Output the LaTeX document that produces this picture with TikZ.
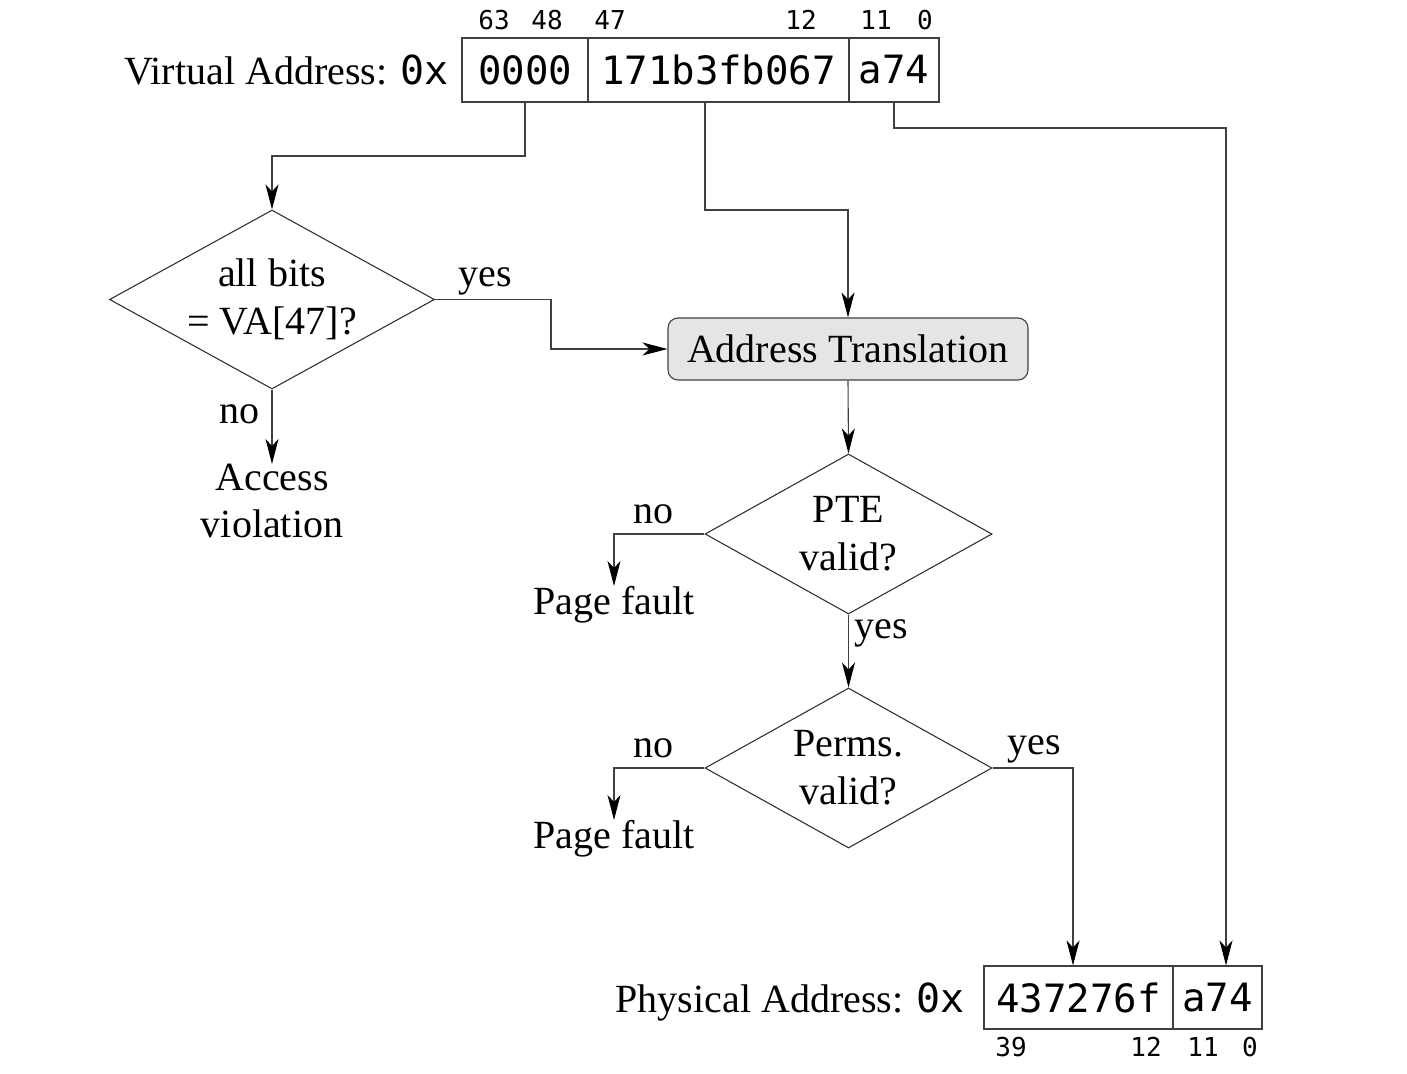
\documentclass[tikz,border=0pt]{standalone}
\usepackage{fontspec}
\setmainfont{Liberation Serif}
\setmonofont{DejaVu Sans Mono}
\usetikzlibrary{shapes.geometric,arrows.meta}
\begin{document}
\begin{tikzpicture}[x=0.5pt,y=-0.5pt,
  line width=0.55pt,
  lbl/.style={font=\fontsize{20}{23.5}\selectfont, inner sep=0pt, align=center},
  cell/.style={draw=black!75, minimum height=32pt, inner sep=0pt, font=\fontsize{19.5}{23.5}\ttfamily},
  bitn/.style={inner sep=0pt, font=\fontsize{13}{15}\ttfamily},
  dia/.style={draw=black!80, diamond, aspect=1.8, inner sep=0pt, align=center, font=\fontsize{20}{24}\selectfont},
  procbox/.style={draw=black!75, rounded corners=5pt, fill=black!10, minimum width=180pt, minimum height=31pt, inner sep=0pt, font=\fontsize{20}{23.5}\selectfont},
  arr/.style={draw=black!75, -{Stealth[length=12.5pt,width=6.5pt,inset=3.5pt,color=black]}},
]
\useasboundingbox (0,0) rectangle (1407,1074);

% Virtual address
\node[cell, minimum width=63pt] (va1) at (525,70) {0000};
\node[cell, minimum width=130.5pt] (va2) at (718.5,70) {171b3fb067};
\node[cell, minimum width=45pt] (va3) at (894,70) {a74};
\node[lbl, anchor=base east, xshift=-6pt] (valbl) at (va1.base west) {Virtual Address: \texttt{0x}};
\node[bitn] (b63) at (494,20) {63};
\node[bitn] (b48) at (547,20) {48};
\node[bitn] (b47) at (610,20) {47};
\node[bitn] (b12) at (801,20) {12};
\node[bitn] (b11) at (876,20) {11};
\node[bitn] (b0) at (925,20) {0};

% Physical address
\node[cell, minimum width=94.5pt, minimum height=31.5pt] (pa1) at (1078.5,997.5) {437276f};
\node[cell, minimum width=44.5pt, minimum height=31.5pt] (pa2) at (1217.5,997.5) {a74};
\node[lbl, anchor=base east, xshift=-9pt] (palbl) at (pa1.base west) {Physical Address: \texttt{0x}};
\node[bitn] (p39) at (1011,1047) {39};
\node[bitn] (p12) at (1146,1047) {12};
\node[bitn] (p11) at (1203,1047) {11};
\node[bitn] (p0) at (1250,1047) {0};

% Decisions
\node[dia, minimum width=162.5pt, minimum height=89.5pt] (d1) at (272,299.5) {all bits\\= VA[47]?};
\node[procbox] (at) at (848,349) {Address Translation};
\node[dia, minimum width=143.5pt, minimum height=80pt] (d2) at (848.5,534) {PTE\\valid?};
\node[dia, minimum width=143.5pt, minimum height=80pt] (d3) at (848.5,768) {Perms.\\valid?};

\node[lbl, anchor=north] (acc) at (272,464) {Access\\violation};
\node[lbl, anchor=north] (pf1) at (614,586) {Page fault};
\node[lbl, anchor=north] (pf2) at (614,820) {Page fault};

% labels
\node[lbl] (y1) at (485,281) {yes};
\node[lbl] (n1) at (239,414) {no};
\node[lbl] (n2) at (653,514) {no};
\node[lbl] (y2) at (881,633) {yes};
\node[lbl] (n3) at (653,748) {no};
\node[lbl] (y3) at (1034,749) {yes};

% bend coordinates
\coordinate (k1) at (272,156);
\coordinate (k2) at (705,210);
\coordinate (k3) at (1226,128);
\coordinate (k4) at (551,299.5);
\coordinate (k5) at (1073,768);

% connectors
\draw[arr] (va1.south) |- (k1) -- (d1.north);
\draw[arr] (k2 |- va2.south) -- (k2) -| (at.north);
\draw[arr] (va3.south) |- (k3) -- (k3 |- pa2.north);
\draw[arr] (d1.east) -- (k4) |- (at.west);
\draw[arr] (d1.south) -- (acc.north);
\draw[arr] (at.south) -- (d2.north);
\draw[arr] (d2.west) -| (pf1.north);
\draw[arr] (d2.south) -- (d3.north);
\draw[arr] (d3.west) -| (pf2.north);
\draw[arr] (d3.east) -- (k5) -- (k5 |- pa1.north);
\end{tikzpicture}
\end{document}
